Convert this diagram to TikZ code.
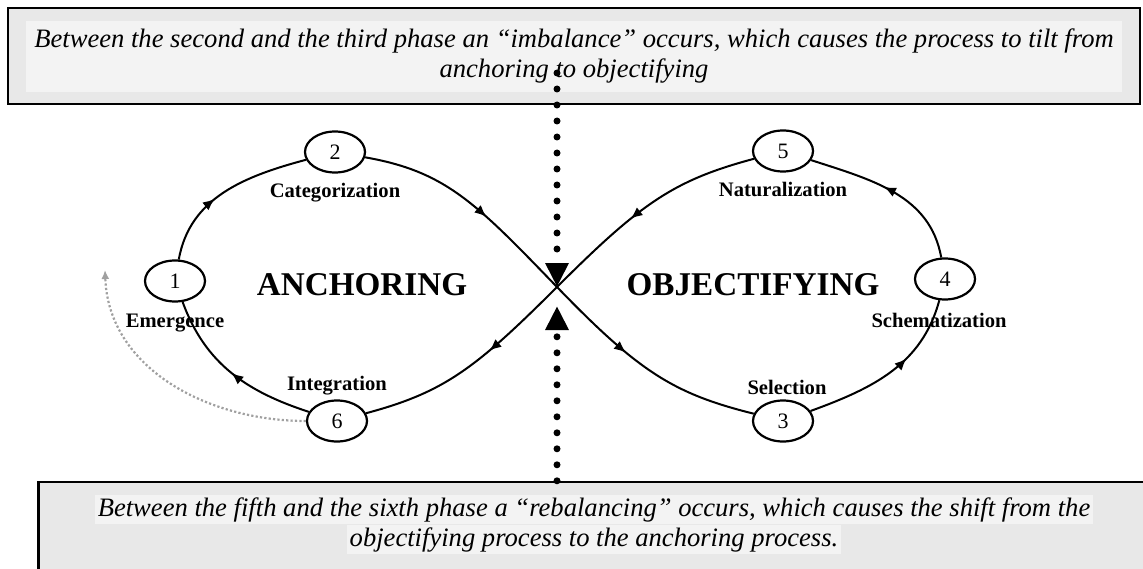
\documentclass[tikz,border=0pt]{standalone}
\usepackage{fontspec}
\setmainfont{Liberation Serif}
\usetikzlibrary{arrows.meta,positioning,shapes.geometric,decorations.markings}
\definecolor{boxgray}{HTML}{E8E8E8}
\definecolor{linegray}{HTML}{F3F3F3}
\definecolor{backgray}{HTML}{A0A0A0}
\tikzset{
    phasenode/.style={ellipse,draw,line width=1.1pt,fill=white,minimum width=30pt,minimum height=20.5pt,inner sep=0pt,font=\fontsize{11}{11}\selectfont},
    phaselabel/.style={inner sep=0pt,font=\fontsize{10.3}{10.3}\selectfont\bfseries},
    loopname/.style={inner sep=0pt,font=\fontsize{16.6}{16.6}\selectfont\bfseries},
    loopline/.style={line width=1pt,postaction={decorate},decoration={markings,mark=at position #1 with {\arrow{Latex[length=6pt,width=5pt]}}}},
    loopline/.default=0.5,
    notebox/.style={draw,line width=1.2pt,fill=boxgray,inner sep=0pt},
    notetext/.style={align=center,inner sep=0pt,font=\fontsize{13.3}{15}\selectfont\itshape},
    shiftline/.style={line width=3.5pt,line cap=round,dash pattern=on 0pt off 8pt,-{Triangle[length=12pt,width=11pt]}},
    backline/.style={backgray,line width=1.1pt,dash pattern=on 1.1pt off 1.1pt,-{Latex[length=4.5pt,width=4pt]}}
}

\begin{document}
\begin{tikzpicture}[x=0.5pt,y=0.5pt]
        \useasboundingbox (0,0) rectangle (1143,568);
        \clip (0,0) rectangle (1143,568);
        % notes
        \node[notebox,minimum width=566pt,minimum height=48pt] (imbalance) at (574,512) {};
        \node[notetext,fill=linegray,minimum width=548pt,minimum height=35.5pt] (imbalancetext) at (574,511.5) {Between the second and the third phase an “imbalance” occurs, which causes the process to tilt from\\anchoring to objectifying};
        \node[notebox,minimum width=561pt,minimum height=53pt] (rebalance) at (599.5,33) {};
        \node[notetext] (rebalancetext) at (594,43.5) {\setlength{\fboxsep}{1.2pt}\colorbox{linegray}{Between the fifth and the sixth phase a “rebalancing” occurs, which causes the shift from the}\\\setlength{\fboxsep}{1.2pt}\colorbox{linegray}{objectifying process to the anchoring process.}};
        % phases
        \coordinate (cross) at (557,281);
        \node[phasenode] (n1) at (175,287) {1};
        \node[phasenode] (n2) at (335,416) {2};
        \node[phasenode] (n3) at (783,147) {3};
        \node[phasenode] (n4) at (945,289) {4};
        \node[phasenode] (n5) at (783,417) {5};
        \node[phasenode] (n6) at (337,147) {6};
        \draw[loopline=0.42] (n1) to[out=80,in=195] (n2);
        \draw[loopline=0.58] (n2) to[out=-10,in=134,out looseness=0.9,in looseness=1.3] (cross);
        \draw[loopline=0.4] (cross) to[out=-46,in=166,out looseness=1.3,in looseness=0.9] (n3);
        \draw[loopline=0.62] (n3) to[out=20,in=255] (n4);
        \draw[loopline=0.55] (n4) to[out=100,in=-18] (n5);
        \draw[loopline=0.58] (n5) to[out=195,in=45,out looseness=0.9,in looseness=1.3] (cross);
        \draw[loopline=0.4] (cross) to[out=225,in=15,out looseness=1.3,in looseness=0.9] (n6);
        \draw[loopline=0.5] (n6) to[out=162,in=-70] (n1);
        \coordinate (backtip) at (105,298);
        \draw[backline] (n6.west) to[out=180,in=-88] (backtip);
        % labels
        \node[phaselabel,below=5.5pt of n1] (emergence) {Emergence};
        \node[phaselabel,below=4.5pt of n2] (categorization) {Categorization};
        \node[phaselabel,above=2pt of n3,xshift=2pt] (selection) {Selection};
        \node[phaselabel,below=6pt of n4,xshift=-3pt] (schematization) {Schematization};
        \node[phaselabel,below=4.5pt of n5] (naturalization) {Naturalization};
        \node[phaselabel,above=2pt of n6] (integration) {Integration};
        \node[loopname] (anchoring) at (362,283) {ANCHORING};
        \node[loopname] (objectifying) at (753,283) {OBJECTIFYING};
        % shifts
        \coordinate (tiltstart) at (557,495);
        \coordinate (crossbelow) at (557,262);
        \draw[shiftline] (tiltstart) -- (cross);
        \draw[shiftline] (rebalance.north -| cross) -- (crossbelow);
    \end{tikzpicture}
\end{document}
